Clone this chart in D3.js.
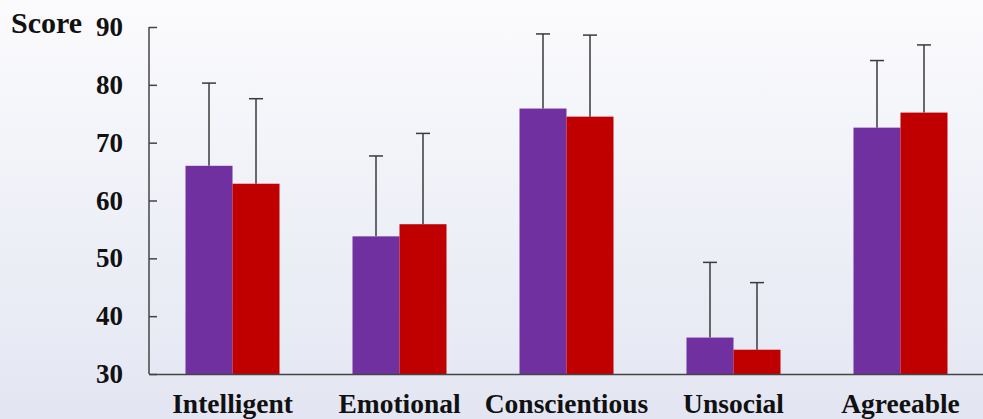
<!DOCTYPE html>
<html>
<head>
<meta charset="utf-8">
<script src="https://cdn.jsdelivr.net/npm/d3@7"></script>
<style>
  html, body { margin: 0; padding: 0; }
  body { width: 983px; height: 419px; overflow: hidden; }
  svg { display: block; }
  text { font-family: "Liberation Serif", "Times New Roman", serif; font-weight: bold; fill: #111; }
</style>
</head>
<body>
<svg id="chart" width="983" height="419"></svg>
<script>
// Trait ratings, two groups per trait, with upper error bars
const categories = ["Intelligent", "Emotional", "Conscientious", "Unsocial", "Agreeable"];
const groups = ["A", "B"];
const groupColors = ["#7030A0", "#C00000"];
const meansA = [66.0, 53.8, 75.9, 36.3, 72.6];
const meansB = [62.9, 55.9, 74.5, 34.2, 75.2];
const upperA = [80.3, 67.7, 88.8, 49.3, 84.2];
const upperB = [77.6, 71.6, 88.6, 45.8, 86.9];
const yTicks = [30, 40, 50, 60, 70, 80, 90];

const svg = d3.select("#chart");
const W = 983, H = 419;

// soft vertical background gradient
const defs = svg.append("defs");
const grad = defs.append("linearGradient").attr("id", "bg").attr("x1", 0).attr("y1", 0).attr("x2", 0).attr("y2", 1);
grad.append("stop").attr("offset", "0%").attr("stop-color", "#fbfbfd");
grad.append("stop").attr("offset", "100%").attr("stop-color", "#e3e6f2");
svg.append("rect").attr("width", W).attr("height", H).attr("fill", "url(#bg)");

const plotLeft = 149, plotRight = 984, plotTop = 27, plotBottom = 374;

const x = d3.scaleBand().domain(categories).range([plotLeft, plotRight]).paddingInner(0.4371).paddingOuter(0.2186);
const xs = d3.scaleBand().domain(groups).range([0, x.bandwidth()]);
const y = d3.scaleLinear().domain([30, 90]).range([plotBottom, plotTop]);

const rows = categories.map((c, i) => ({
  c,
  vals: [
    { g: "A", v: meansA[i], u: upperA[i], color: groupColors[0] },
    { g: "B", v: meansB[i], u: upperB[i], color: groupColors[1] }
  ]
}));

const cat = svg.append("g").selectAll("g").data(rows).join("g")
  .attr("transform", d => `translate(${x(d.c)},0)`);

// error bars (drawn first so bars cover the lower half)
const eb = cat.selectAll("g.err").data(d => d.vals).join("g").attr("class", "err");
eb.append("line")
  .attr("x1", d => xs(d.g) + xs.bandwidth() / 2)
  .attr("x2", d => xs(d.g) + xs.bandwidth() / 2)
  .attr("y1", d => y(d.v))
  .attr("y2", d => y(d.u))
  .attr("stroke", "#3a3a3a").attr("stroke-width", 1.5);
eb.append("line")
  .attr("x1", d => xs(d.g) + xs.bandwidth() / 2 - 7)
  .attr("x2", d => xs(d.g) + xs.bandwidth() / 2 + 7)
  .attr("y1", d => y(d.u))
  .attr("y2", d => y(d.u))
  .attr("stroke", "#3a3a3a").attr("stroke-width", 1.5);

cat.selectAll("rect").data(d => d.vals).join("rect")
  .attr("x", d => xs(d.g))
  .attr("width", xs.bandwidth())
  .attr("y", d => y(d.v))
  .attr("height", d => y(30) - y(d.v))
  .attr("fill", d => d.color);

// y axis: ticks point inward, labels on the left
const yAxis = d3.axisRight(y).tickValues(yTicks).tickSize(8).tickFormat("");
const ya = svg.append("g").attr("transform", `translate(${plotLeft},0)`).call(yAxis);
ya.select(".domain").attr("stroke", "#444").attr("stroke-width", 1.5).attr("d", `M0,${plotTop}V${plotBottom}`);
ya.selectAll(".tick line").attr("stroke", "#444").attr("stroke-width", 1.5);

svg.append("g").selectAll("text").data(yTicks).join("text")
  .attr("x", 123).attr("y", d => y(d) + 9)
  .attr("text-anchor", "end").attr("font-size", 27)
  .text(d => d);

svg.append("text").attr("x", 11).attr("y", 33).attr("font-size", 30).text("Score");

// x axis baseline and category labels
const xAxis = d3.axisBottom(x).tickSize(0);
const xa = svg.append("g").attr("transform", `translate(0,${plotBottom})`).call(xAxis);
xa.select(".domain").attr("stroke", "#444").attr("stroke-width", 1.5);
xa.selectAll(".tick text")
  .attr("font-size", 27.5).attr("dy", 0).attr("y", 39)
  .attr("font-family", "Liberation Serif, Times New Roman, serif").attr("font-weight", "bold").attr("fill", "#111");
</script>
</body>
</html>
